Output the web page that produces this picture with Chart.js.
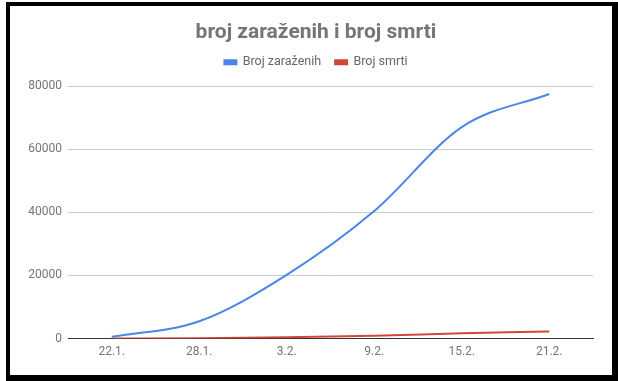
<!DOCTYPE html>
<html>
<head>
<meta charset="utf-8">
<script src="https://cdn.jsdelivr.net/npm/chart.js@4.4.1/dist/chart.umd.min.js"></script>
<style>
    body { margin: 0; background: #fff; }
    #frame {
        position: absolute; left: 6px; top: 2px; width: 612px; height: 379px;
        box-sizing: border-box; border-style: solid; border-color: #000;
        border-width: 4px 6px 6px 4px; background: #fff;
    }
    #wrap { position: relative; width: 602px; height: 369px; }
</style>
</head>
<body>
<div id="frame"><div id="wrap"><canvas id="covidChart"></canvas></div></div>
<script>
const dates = ["22.1.", "28.1.", "3.2.", "9.2.", "15.2.", "21.2."];
const infected = [555, 5500, 20200, 40400, 67000, 77500];
const deaths = [17, 131, 427, 910, 1666, 2247];
const yTicks = [0, 20000, 40000, 60000, 80000];

// extra space under the legend, and title/legend centred a bit to the right like in sheets
const headerTweak = {
    id: 'headerTweak',
    beforeInit(chart) {
        const fit = chart.legend.fit;
        chart.legend.fit = function () {
            fit.bind(chart.legend)();
            this.height += 7.5;
        };
    },
    afterLayout(chart) {
        [chart.titleBlock, chart.legend].forEach(box => {
            box.left += 14.5;
            box.right += 14.5;
        });
    }
};

const ctx = document.getElementById('covidChart');
new Chart(ctx, {
    type: 'line',
    data: {
        labels: dates,
        datasets: [
            {
                label: 'Broj zaraženih',
                data: infected,
                borderColor: '#4a86e8',
                backgroundColor: '#4a86e8',
                borderWidth: 2,
                pointRadius: 0,
                cubicInterpolationMode: 'monotone'
            },
            {
                label: 'Broj smrti',
                data: deaths,
                borderColor: '#d2463a',
                backgroundColor: '#d2463a',
                borderWidth: 2,
                pointRadius: 0,
                cubicInterpolationMode: 'monotone'
            }
        ]
    },
    options: {
        responsive: true,
        maintainAspectRatio: false,
        animation: false,
        layout: { padding: { left: 0, right: 19, top: 0, bottom: 10 } },
        plugins: {
            title: {
                display: true,
                text: 'broj zaraženih i broj smrti',
                color: '#757575',
                font: { family: 'Roboto', size: 21, weight: 'bold', lineHeight: 0.86 },
                padding: { top: 18, bottom: 0 }
            },
            legend: {
                position: 'top',
                labels: {
                    color: '#666',
                    font: { family: 'Roboto', size: 12.5 },
                    boxWidth: 12,
                    boxHeight: 4,
                    padding: 14
                }
            },
            tooltip: { enabled: false }
        },
        scales: {
            x: {
                offset: true,
                grid: { display: false, drawTicks: false },
                border: { display: true, color: '#333', width: 1 },
                ticks: { color: '#757575', font: { family: 'Roboto', size: 12 }, padding: 6, maxRotation: 0, autoSkip: false }
            },
            y: {
                min: 0,
                max: 80000,
                afterBuildTicks: (scale) => { scale.ticks = yTicks.map(v => ({ value: v })); },
                afterFit: (scale) => { scale.width = 58; },
                grid: {
                    color: (c) => c.tick && c.tick.value === 0 ? 'rgba(0,0,0,0)' : '#cccccc',
                    drawTicks: false
                },
                border: { display: false },
                ticks: {
                    color: '#757575',
                    font: { family: 'Roboto', size: 12 },
                    padding: 6,
                    callback: (v) => String(v)
                }
            }
        }
    },
    plugins: [headerTweak]
});
</script>
</body>
</html>
